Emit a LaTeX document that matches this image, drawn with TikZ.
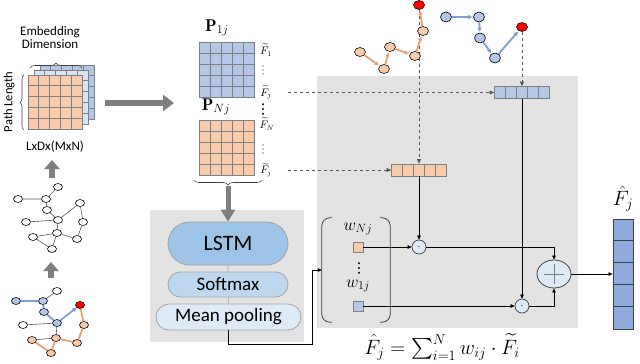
\documentclass[tikz,border=0pt]{standalone}
\usepackage{amsmath}
\usepackage{fontspec}
\setsansfont{Carlito}
\usetikzlibrary{arrows.meta,shapes.geometric,shapes.misc,decorations.pathreplacing,positioning}

\begin{document}
\begin{tikzpicture}[x=1pt,y=-1pt,font=\sffamily,
  cell/.style={draw=gridline,line width=0.7pt},
  vec/.style={draw=gridline,line width=0.7pt,minimum width=55pt,minimum height=12pt,inner sep=0pt},
  gnode/.style={ellipse,draw=black,line width=0.6pt,fill=white,minimum width=9pt,minimum height=7pt,inner sep=0pt},
  pnode/.style={ellipse,draw=black,line width=0.6pt,minimum width=11pt,minimum height=9pt,inner sep=0pt},
  gedge/.style={draw=edgegrey,line width=0.6pt},
  oedge/.style={draw=edgeorange,line width=1.8pt},
  bedge/.style={draw=edgeblue,line width=1.8pt},
  bigarrow/.style={draw=arrowgrey,line width=5.5pt,-{Triangle[length=11pt,width=16pt]}},
  stage/.style={rounded rectangle,draw=stageline,line width=0.8pt,inner sep=0pt,font=\sffamily\fontsize{19}{19}\selectfont},
  thinarrow/.style={draw=black,line width=0.6pt,-{Triangle[length=4pt,width=3.5pt]}},
  dasharrow/.style={draw=dashgrey,dashed,line width=0.6pt,-{Triangle[length=4.5pt,width=4pt]}},
  odot/.style={circle,draw=darkline,fill=meanfill,line width=0.7pt,minimum size=14pt,inner sep=0pt},
  wsq/.style={draw=gridline,line width=0.6pt,minimum size=10pt,inner sep=0pt},
  ftl/.style={font=\fontsize{10.5}{12}\selectfont,inner sep=0pt}]
\definecolor{orangecell}{HTML}{F8CBAD}
\definecolor{bluecell}{HTML}{B4C7E7}
\definecolor{midcell}{HTML}{DAE3F3}
\definecolor{gridline}{HTML}{7F7F7F}
\definecolor{panelgrey}{HTML}{E3E3E3}
\definecolor{arrowgrey}{HTML}{7F7F7F}
\definecolor{edgegrey}{HTML}{595959}
\definecolor{edgeorange}{HTML}{E2A273}
\definecolor{edgeblue}{HTML}{7F9FD3}
\definecolor{dashgrey}{HTML}{595959}
\definecolor{darkline}{HTML}{404040}
\definecolor{stageline}{HTML}{A5A5A5}
\definecolor{lstmfill}{HTML}{9DC3E6}
\definecolor{softfill}{HTML}{BDD7EE}
\definecolor{meanfill}{HTML}{DEEBF7}
\definecolor{outfill}{HTML}{8FAADC}
\useasboundingbox (0,0) rectangle (640,364);

% panels
\fill[panelgrey] (317,76) rectangle (578,328);
\fill[panelgrey] (150,210) rectangle (304,342);

% stacked path tensor
\foreach \r in {0,...,4} \foreach \c in {0,...,4}
  \draw[cell,fill=bluecell] ({40+10.8*\c},{65+10.8*\r}) rectangle ++(10.8,10.8);
\foreach \r in {0,...,4} \foreach \c in {0,...,4}
  \draw[cell,fill=midcell] ({34+10.8*\c},{70+10.8*\r}) rectangle ++(10.8,10.8);
\foreach \r in {0,...,4} \foreach \c in {0,...,4}
  \draw[cell,fill=orangecell] ({28+10.8*\c},{75+10.8*\r}) rectangle ++(10.8,10.8);
\draw[darkline,line width=0.6pt,decorate,decoration={brace,amplitude=5pt}] (30,68) -- (82,68);
\draw[darkline,line width=0.6pt,decorate,decoration={brace,amplitude=4pt}] (24,130) -- (24,75);
\node[align=center,font=\sffamily\fontsize{13}{13}\selectfont] (embdim) at (50,38) {Embedding\\Dimension};
\node[rotate=90,font=\sffamily\fontsize{12.5}{13}\selectfont] (pathlen) at (9,102) {Path Length};
\node[font=\sffamily\fontsize{13}{13}\selectfont] (shape) at (55,147) {LxDx(MxN)};

% graphs
\node[gnode] (m1) at (58,187) {};
\node[gnode] (m2) at (18,199) {};
\node[gnode] (m3) at (46,199) {};
\node[gnode] (m4) at (47,210) {};
\node[gnode] (m5) at (80,203) {};
\node[gnode] (m6) at (26,222) {};
\node[gnode] (m7) at (58,220) {};
\node[gnode] (m8) at (83,222) {};
\node[gnode] (m9) at (33,237) {};
\node[gnode] (m10) at (57,233) {};
\node[gnode] (m11) at (77,239) {};
\node[gnode] (m12) at (52,249) {};
\draw[gedge] (m2) -- (m3) (m3) -- (m1) (m3) -- (m4) (m4) -- (m7) (m7) -- (m5)
  (m5) -- (m8) (m8) -- (m11) (m6) -- (m7) (m7) -- (m10) (m10) -- (m11)
  (m10) -- (m12) (m9) -- (m12) (m9) -- (m10);

\node[gnode] (n1) at (57,291) {};
\node[gnode,fill=bluecell] (n2) at (16,301) {};
\node[gnode,fill=bluecell] (n3) at (43,301) {};
\node[gnode,fill=bluecell] (n4) at (44,312) {};
\node[gnode,fill=red] (n5) at (80,305) {};
\node[gnode] (n6) at (23,325) {};
\node[gnode,fill=bluecell] (n7) at (57,323) {};
\node[gnode,fill=orangecell] (n8) at (84,325) {};
\node[gnode,fill=orangecell] (n9) at (32,340) {};
\node[gnode,fill=orangecell] (n10) at (56,338) {};
\node[gnode,fill=orangecell] (n11) at (77,343) {};
\node[gnode,fill=orangecell] (n12) at (51,353) {};
\draw[gedge] (n3) -- (n1) (n6) -- (n7) (n7) -- (n10) (n9) -- (n10);
\draw[bedge] (n2) -- (n3) (n3) -- (n4) (n4) -- (n7);
\draw[bedge,-{Triangle[length=4pt,width=4pt]}] (n7) -- (n5);
\draw[oedge] (n5) -- (n8) (n8) -- (n11) (n11) -- (n10) (n10) -- (n12) (n12) -- (n9);

\coordinate (up1a) at (51,278);
\coordinate (up1b) at (51,262);
\coordinate (up2a) at (52,178);
\coordinate (up2b) at (52,160);
\draw[bigarrow,-{Triangle[length=9pt,width=15pt]}] (up1a) -- (up1b);
\draw[bigarrow,-{Triangle[length=9pt,width=15pt]}] (up2a) -- (up2b);
\coordinate (toP) at (105,103);
\draw[bigarrow] (toP) -- (174,103);

% path matrices
\foreach \r in {0,...,4} \foreach \c in {0,...,4}
  \draw[cell,fill=bluecell] ({199+11*\c},{42+11*\r}) rectangle ++(11,11);
\foreach \r in {0,...,4} \foreach \c in {0,...,4}
  \draw[cell,fill=orangecell] ({199+11*\c},{120+11*\r}) rectangle ++(11,11);
\node[font=\fontsize{17}{17}\selectfont] (p1j) at (217,28) {$\mathbf{P}_{1j}$};
\node[font=\fontsize{17}{17}\selectfont] (pnj) at (216,107) {$\mathbf{P}_{Nj}$};
\node[ftl] (f1) at (266,50) {$\widetilde{F}_1$};
\node[ftl] (fj1) at (266,92.5) {$\widetilde{F}_j$};
\node[ftl] (fn) at (267,124) {$\widetilde{F}_N$};
\node[ftl] (fj2) at (266,170) {$\widetilde{F}_j$};
\foreach \d in {-4,0,4} {
  \fill[black] (263,70+\d) circle (0.6);
  \fill[black] (263,149+\d) circle (0.6);
  \fill[black] (263,109+1.2*\d) circle (1.1);
  \fill[black] (359,268+1.2*\d) circle (1.1);
}
\draw[darkline,line width=0.6pt,decorate,decoration={brace,amplitude=5pt}] (262,180) -- (194,180);
\coordinate (braceTip) at (228,186);

% lstm stack
\node[stage,fill=lstmfill,minimum width=120pt,minimum height=43pt,font=\sffamily\fontsize{22}{22}\selectfont] (lstm) at (228,243.5) {LSTM};
\node[stage,fill=softfill,minimum width=120pt,minimum height=25pt] (softmax) at (228,284.5) {Softmax};
\node[stage,fill=meanfill,minimum width=145pt,minimum height=26pt] (meanpool) at (228.5,317) {Mean pooling};
\draw[bigarrow,line width=5pt,-{Triangle[length=12pt,width=14pt]}] (braceTip) -- (lstm.north);
\draw[stageline,line width=0.8pt] (lstm) -- (softmax) (softmax) -- (meanpool);

% sampled paths
\node[vec,fill=orangecell] (ovec) at (419,170) {};
\node[vec,fill=bluecell] (bvec) at (522,92.5) {};
\foreach \i in {1,...,4} {
  \draw[gridline,line width=0.7pt] ([xshift=\i*11pt]ovec.north west) -- ([xshift=\i*11pt]ovec.south west);
  \draw[gridline,line width=0.7pt] ([xshift=\i*11pt]bvec.north west) -- ([xshift=\i*11pt]bvec.south west);
}
\node[pnode,fill=red] (ored) at (419,5) {};
\node[pnode,fill=red] (bred) at (522,27) {};
\draw[dasharrow] (ored) -- (ovec.north);
\draw[dasharrow] (bred) -- (bvec.north);
\draw[dasharrow] ([xshift=16pt]fj1.east) -- (bvec.west);
\draw[dasharrow] ([xshift=16pt]fj2.east) -- (ovec.west);
\node[pnode,fill=orangecell] (op1) at (360,52) {};
\node[pnode,fill=orangecell] (op2) at (384,69) {};
\node[pnode,fill=orangecell] (op3) at (390,47) {};
\node[pnode,fill=orangecell] (op4) at (415,56) {};
\node[pnode,fill=orangecell] (op5) at (423,31) {};
\draw[oedge,-{Triangle[length=4pt,width=4pt]},shorten >=1pt] (op1) -- (op2);
\draw[oedge,-{Triangle[length=4pt,width=4pt]},shorten >=1pt] (op2) -- (op3);
\draw[oedge,-{Triangle[length=4pt,width=4pt]},shorten >=1pt] (op3) -- (op4);
\draw[oedge,-{Triangle[length=4pt,width=4pt]},shorten >=1pt] (op4) -- (op5);
\draw[oedge,-{Triangle[length=4pt,width=4pt]},shorten >=1pt] (op5) -- (ored);
\node[pnode,fill=bluecell,minimum width=11pt,minimum height=10pt] (bp1) at (446,17) {};
\node[pnode,fill=bluecell,minimum width=11pt,minimum height=10pt] (bp2) at (479,17) {};
\node[pnode,fill=bluecell,minimum width=11pt,minimum height=10pt] (bp3) at (480,38) {};
\node[pnode,fill=bluecell,minimum width=11pt,minimum height=10pt] (bp4) at (495,58) {};
\draw[bedge,-{Triangle[length=4pt,width=4pt]},shorten >=1pt] (bp1) -- (bp2);
\draw[bedge,-{Triangle[length=4pt,width=4pt]},shorten >=1pt] (bp2) -- (bp3);
\draw[bedge,-{Triangle[length=4pt,width=4pt]},shorten >=1pt] (bp3) -- (bp4);
\draw[bedge,-{Triangle[length=4pt,width=4pt]},shorten >=1pt] (bp4) -- (bred);

% weights and aggregation
\node[minimum width=68pt,minimum height=104pt,inner sep=0pt] (wgroup) at (356,270) {};
\draw[darkline,line width=0.8pt,rounded corners=8pt] ([xshift=10pt]wgroup.north west) -- (wgroup.north west) -- (wgroup.south west) -- ([xshift=10pt]wgroup.south west);
\draw[darkline,line width=0.8pt,rounded corners=8pt] ([xshift=-10pt]wgroup.north east) -- (wgroup.north east) -- (wgroup.south east) -- ([xshift=-10pt]wgroup.south east);
\node[font=\fontsize{18}{18}\selectfont] (wnlab) at (358,229) {$w_{Nj}$};
\node[wsq,fill=orangecell] (wn) at (358,247) {};
\node[font=\fontsize{18}{18}\selectfont] (w1lab) at (358,286) {$w_{1j}$};
\node[wsq,fill=bluecell] (w1) at (358,306) {};
\node[odot] (dot1) at (419,247) {$\cdot$};
\node[odot] (dot2) at (522,306) {$\cdot$};
\node[ellipse,draw=darkline,fill=meanfill,line width=0.8pt,minimum width=34pt,minimum height=28pt] (plus) at (554,274) {};
\draw[gridline,line width=1pt] ([xshift=-10pt]plus.center) -- ([xshift=10pt]plus.center);
\draw[gridline,line width=1pt] ([yshift=-10pt]plus.center) -- ([yshift=10pt]plus.center);
\draw[thinarrow] (ovec.south) -- (dot1.north);
\draw[thinarrow] (bvec.south) -- (dot2.north);
\draw[thinarrow] (wn) -- (dot1);
\draw[thinarrow] (w1) -- (dot2);
\draw[thinarrow] (dot1.east) -| (plus.north);
\draw[thinarrow] (dot2.east) -| (plus.south);
\coordinate (bend) at (312,344);
\draw[thinarrow] (meanpool.south) |- (bend) |- (wgroup.west);

% output
\node[draw=darkline,fill=outfill,line width=0.8pt,minimum width=20pt,minimum height=110pt,inner sep=0pt] (fout) at (623,274) {};
\foreach \i in {1,...,4}
  \draw[darkline,line width=0.8pt] ([yshift=-\i*22pt]fout.north west) -- ([yshift=-\i*22pt]fout.north east);
\draw[thinarrow] (plus.east) -- (fout.west);
\node[font=\fontsize{22}{22}\selectfont] (foutlab) at (623,199) {$\hat{F}_j$};
\node[font=\fontsize{22}{22}\selectfont] (eqn) at (442,347) {$\hat{F}_j=\sum_{i=1}^{N} w_{ij}\cdot\widetilde{F}_i$};
\end{tikzpicture}
\end{document}
